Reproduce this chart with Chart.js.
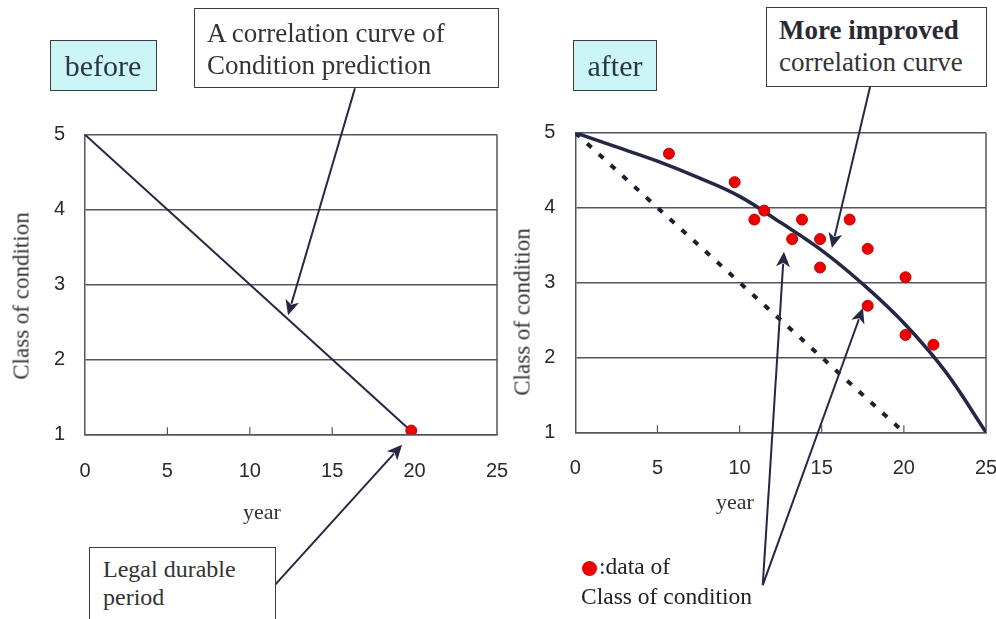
<!DOCTYPE html>
<html>
<head>
<meta charset="utf-8">
<script src="https://cdn.jsdelivr.net/npm/chart.js@4/dist/chart.umd.min.js"></script>
<style>
  html, body { margin:0; padding:0; background:#fff; }
  #page { position:relative; width:996px; height:619px; overflow:hidden; background:#fff; }
  canvas { position:absolute; top:0; }
  #cBefore { left:0; }
  #cAfter { left:498px; }
  .box { position:absolute; box-sizing:border-box; border:1px solid #3c3c3c; background:#fff; z-index:2; }
  .cyan { background:#ccf5f8; }
  .t { position:absolute; white-space:nowrap; font-family:"Liberation Serif","Times New Roman",serif; color:#333; z-index:3; }
  .rot { transform:translate(-50%,-50%) rotate(-90deg); }
  .ctr { transform:translateX(-50%); }
</style>
</head>
<body>
<div id="page">
  <canvas id="cBefore" width="510" height="619"></canvas>
  <canvas id="cAfter" width="498" height="619"></canvas>

  <div class="box cyan" style="left:50px;top:40px;width:107px;height:51px;"></div>
  <div class="t ctr" style="left:103px;top:51px;font-size:30px;line-height:30px;color:#2b3544;">before</div>

  <div class="box cyan" style="left:573px;top:40px;width:84px;height:51px;"></div>
  <div class="t ctr" style="left:615px;top:51px;font-size:30px;line-height:30px;color:#2b3544;">after</div>

  <div class="box" style="left:194px;top:8px;width:305px;height:80px;"></div>
  <div class="t" style="left:207px;top:20px;font-size:27px;line-height:27px;">A correlation curve of</div>
  <div class="t" style="left:207px;top:52px;font-size:27px;line-height:27px;">Condition prediction</div>

  <div class="box" style="left:766px;top:7px;width:221px;height:80px;"></div>
  <div class="t" style="left:779px;top:17px;font-size:27px;line-height:27px;font-weight:bold;color:#2a2a35;">More improved</div>
  <div class="t" style="left:779px;top:49px;font-size:27px;line-height:27px;">correlation curve</div>

  <div class="box" style="left:89px;top:547px;width:187px;height:80px;"></div>
  <div class="t" style="left:103px;top:557px;font-size:24px;line-height:24px;">Legal durable</div>
  <div class="t" style="left:103px;top:585px;font-size:24px;line-height:24px;">period</div>

  <div style="position:absolute;left:582px;top:561px;width:15px;height:15px;border-radius:50%;background:#ee0000;z-index:3;"></div>
  <div class="t" style="left:599px;top:555px;font-size:23.5px;line-height:23.5px;color:#222;">:data of</div>
  <div class="t" style="left:581px;top:585px;font-size:23.5px;line-height:23.5px;color:#222;">Class of condition</div>

  <div class="t rot" style="left:21px;top:296px;font-size:23px;line-height:23px;">Class of condition</div>
  <div class="t rot" style="left:522px;top:312px;font-size:23px;line-height:23px;">Class of condition</div>
  <div class="t ctr" style="left:262px;top:501px;font-size:22px;line-height:22px;">year</div>
  <div class="t ctr" style="left:735px;top:491px;font-size:22px;line-height:22px;">year</div>
</div>

<script>
// ---------- data ----------
const yearMin = 0, yearMax = 25, yearStep = 5;
const classMin = 1, classMax = 5, classStep = 1;

// "before" panel
const beforeLineX = [0, 20];
const beforeLineY = [5, 1];
const legalPointX = [19.8];
const legalPointY = [1.05];

// "after" panel
const improvedCurveX = [0, 2.5, 5, 7.5, 10, 12.5, 15, 17.5, 20, 22.5, 25];
const improvedCurveY = [5, 4.81, 4.62, 4.40, 4.15, 3.80, 3.43, 2.98, 2.46, 1.82, 1];
const linearLineX = [0, 20];
const linearLineY = [5, 1];
const conditionX = [5.7, 9.7, 11.5, 10.9, 13.8, 16.7, 13.2, 14.9, 17.8, 14.9, 20.1, 17.8, 20.1, 21.8];
const conditionY = [4.72, 4.34, 3.96, 3.84, 3.84, 3.84, 3.58, 3.58, 3.45, 3.20, 3.07, 2.69, 2.30, 2.17];

// annotation arrows (data coordinates of tail and tip)
const beforeArrowFrom = [[16.38, 5.62], [11.53, -1.01]];
const beforeArrowTo   = [[12.32, 2.59], [19.24, 0.86]];
const afterArrowFrom  = [[17.94, 5.61], [11.41, -1.04], [11.41, -1.04]];
const afterArrowTo    = [[15.62, 3.46], [12.70, 3.41], [17.51, 2.66]];

// ---------- helpers ----------
const pts = (xs, ys) => xs.map((x, i) => ({x, y: ys[i]}));
const INK = '#262645';
const GRID = '#55555e';

const framePlugin = {
  id: 'frame',
  beforeDatasetsDraw(chart) {
    const {ctx, chartArea: a, scales: {x}} = chart;
    ctx.save();
    ctx.strokeStyle = GRID;
    ctx.lineWidth = 1.5;
    ctx.beginPath();
    ctx.moveTo(a.right, a.top); ctx.lineTo(a.right, a.bottom);
    ctx.stroke();
    ctx.lineWidth = 1.2;
    x.ticks.forEach(t => {
      if (t.value <= yearMin || t.value >= yearMax) return;
      const px = x.getPixelForValue(t.value);
      ctx.beginPath();
      ctx.moveTo(px, a.bottom); ctx.lineTo(px, a.bottom - 7);
      ctx.stroke();
    });
    ctx.restore();
  }
};

const arrowPlugin = {
  id: 'arrows',
  afterDraw(chart, args, opts) {
    const {ctx, scales: {x, y}} = chart;
    const from = opts.from || [], to = opts.to || [];
    ctx.save();
    ctx.strokeStyle = INK; ctx.fillStyle = INK; ctx.lineWidth = 2;
    from.forEach((f, i) => {
      const x1 = x.getPixelForValue(f[0]), y1 = y.getPixelForValue(f[1]);
      const x2 = x.getPixelForValue(to[i][0]), y2 = y.getPixelForValue(to[i][1]);
      const ang = Math.atan2(y2 - y1, x2 - x1);
      const L = 15, W = 7;
      const bx = x2 - L * Math.cos(ang), by = y2 - L * Math.sin(ang);
      ctx.beginPath(); ctx.moveTo(x1, y1); ctx.lineTo(bx + 3 * Math.cos(ang), by + 3 * Math.sin(ang)); ctx.stroke();
      ctx.beginPath();
      ctx.moveTo(x2, y2);
      ctx.lineTo(bx + W * Math.sin(ang), by - W * Math.cos(ang));
      ctx.lineTo(bx + 4 * Math.cos(ang), by + 4 * Math.sin(ang));
      ctx.lineTo(bx - W * Math.sin(ang), by + W * Math.cos(ang));
      ctx.closePath(); ctx.fill();
    });
    ctx.restore();
  }
};

function makeScales(yWidth, xPad) {
  const tickFont = {family: '"Liberation Sans", Arial, sans-serif', size: 20};
  return {
    x: {
      type: 'linear', min: yearMin, max: yearMax,
      ticks: {stepSize: yearStep, font: tickFont, color: '#2a2a2a', padding: xPad, maxRotation: 0},
      grid: {display: false, drawTicks: false},
      border: {display: true, color: GRID, width: 1.5},
      afterFit(s) { s.height = 60; s.paddingLeft = 0; s.paddingRight = 0; s.paddingTop = 0; s.paddingBottom = 0; }
    },
    y: {
      type: 'linear', min: classMin, max: classMax,
      ticks: {stepSize: classStep, font: tickFont, color: '#2a2a2a', padding: 20},
      grid: {color: GRID, lineWidth: 1.5, drawTicks: false},
      border: {display: true, color: GRID, width: 1.5},
      afterFit(s) { s.width = yWidth; s.paddingLeft = 0; s.paddingRight = 0; s.paddingTop = 0; s.paddingBottom = 0; }
    }
  };
}

const common = {
  responsive: false,
  animation: false,
  events: [],
  plugins: {legend: {display: false}, tooltip: {enabled: false}}
};

new Chart(document.getElementById('cBefore'), {
  type: 'scatter',
  data: {
    datasets: [
      {data: pts(legalPointX, legalPointY), order: 0, pointRadius: 5.5, backgroundColor: '#ee0000', borderColor: '#c00000', borderWidth: 1},
      {data: pts(beforeLineX, beforeLineY), order: 1, showLine: true, borderColor: INK, borderWidth: 2, pointRadius: 0}
    ]
  },
  options: {
    ...common,
    layout: {padding: {left: 0, right: 13, top: 134.7, bottom: 124.7}},
    scales: makeScales(85, 25),
    plugins: {...common.plugins, arrows: {from: beforeArrowFrom, to: beforeArrowTo}}
  },
  plugins: [framePlugin, arrowPlugin]
});

new Chart(document.getElementById('cAfter'), {
  type: 'scatter',
  data: {
    datasets: [
      {data: pts(conditionX, conditionY), order: 0, pointRadius: 5.5, backgroundColor: '#ee0000', borderColor: '#c00000', borderWidth: 1},
      {data: pts(improvedCurveX, improvedCurveY), order: 1, showLine: true, borderColor: INK, borderWidth: 3.5, pointRadius: 0, tension: 0.4},
      {data: pts(linearLineX, linearLineY), order: 2, showLine: true, borderColor: '#1e1e30', borderWidth: 4, borderDash: [6, 10], borderCapStyle: 'butt', pointRadius: 0}
    ]
  },
  options: {
    ...common,
    layout: {padding: {left: 0, right: 10, top: 132.7, bottom: 126.7}},
    scales: makeScales(77.3, 24),
    plugins: {...common.plugins, arrows: {from: afterArrowFrom, to: afterArrowTo}}
  },
  plugins: [framePlugin, arrowPlugin]
});
</script>
</body>
</html>
